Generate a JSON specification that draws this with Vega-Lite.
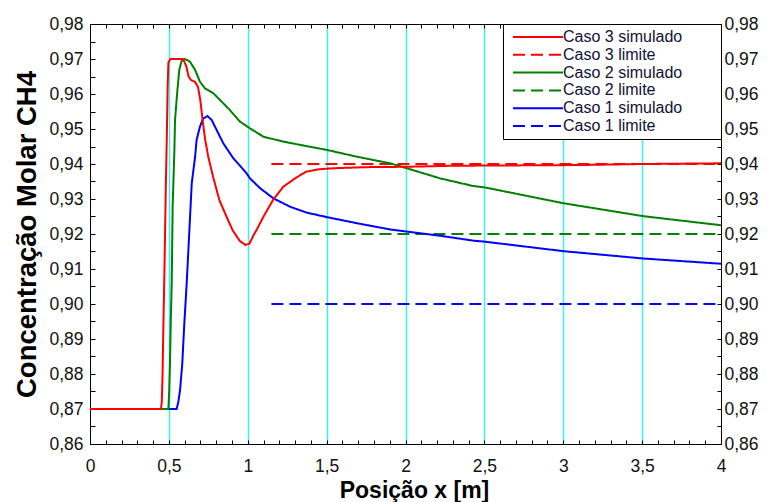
{
  "$schema": "https://vega.github.io/schema/vega-lite/v6.json",
  "width": 631,
  "height": 420,
  "autosize": {"type": "none"},
  "padding": {"left": 90, "top": 24, "right": 47, "bottom": 58},
  "background": "white",
  "config": {
    "view": {"stroke": "black", "strokeWidth": 1},
    "font": "Liberation Sans",
    "axis": {
      "domainColor": "black",
      "domainWidth": 1,
      "tickColor": "black",
      "tickWidth": 1,
      "labelColor": "#111111",
      "titleColor": "black",
      "labelFont": "Liberation Sans",
      "labelFontSize": 17.5,
      "titleFont": "Liberation Sans",
      "titleFontWeight": "bold",
      "titleFontSize": 24,
      "labelOverlap": false,
      "labelBound": false,
      "labelFlush": false
    },
    "legend": {
      "orient": "top-right",
      "offset": 0,
      "padding": 5,
      "strokeColor": "black",
      "fillColor": "white",
      "symbolType": "M-25,0H25",
      "symbolSize": 4,
      "symbolStrokeWidth": 2,
      "symbolOffset": 22,
      "labelFont": "Liberation Sans",
      "labelFontSize": 16,
      "labelColor": "#111133",
      "labelOffset": 17,
      "rowPadding": 1.8,
      "titleOrient": "right",
      "titlePadding": 34,
      "titleFontSize": 6,
      "titleColor": "white"
    }
  },
  "datasets": {
    "sim": [
      {"serie": "Caso 1 simulado", "x": 0, "y": 0.87},
      {"serie": "Caso 1 simulado", "x": 0.549, "y": 0.87},
      {"serie": "Caso 1 simulado", "x": 0.56, "y": 0.872},
      {"serie": "Caso 1 simulado", "x": 0.571, "y": 0.8754},
      {"serie": "Caso 1 simulado", "x": 0.585, "y": 0.883},
      {"serie": "Caso 1 simulado", "x": 0.598, "y": 0.8945},
      {"serie": "Caso 1 simulado", "x": 0.613, "y": 0.9059},
      {"serie": "Caso 1 simulado", "x": 0.629, "y": 0.9202},
      {"serie": "Caso 1 simulado", "x": 0.645, "y": 0.9345},
      {"serie": "Caso 1 simulado", "x": 0.666, "y": 0.942},
      {"serie": "Caso 1 simulado", "x": 0.676, "y": 0.9469},
      {"serie": "Caso 1 simulado", "x": 0.697, "y": 0.9507},
      {"serie": "Caso 1 simulado", "x": 0.718, "y": 0.953},
      {"serie": "Caso 1 simulado", "x": 0.744, "y": 0.9537},
      {"serie": "Caso 1 simulado", "x": 0.771, "y": 0.9526},
      {"serie": "Caso 1 simulado", "x": 0.803, "y": 0.9497},
      {"serie": "Caso 1 simulado", "x": 0.845, "y": 0.9459},
      {"serie": "Caso 1 simulado", "x": 0.909, "y": 0.9416},
      {"serie": "Caso 1 simulado", "x": 0.951, "y": 0.9395},
      {"serie": "Caso 1 simulado", "x": 0.993, "y": 0.9373},
      {"serie": "Caso 1 simulado", "x": 1.014, "y": 0.9359},
      {"serie": "Caso 1 simulado", "x": 1.078, "y": 0.9331},
      {"serie": "Caso 1 simulado", "x": 1.162, "y": 0.9302},
      {"serie": "Caso 1 simulado", "x": 1.268, "y": 0.9278},
      {"serie": "Caso 1 simulado", "x": 1.374, "y": 0.9261},
      {"serie": "Caso 1 simulado", "x": 1.504, "y": 0.9248},
      {"serie": "Caso 1 simulado", "x": 1.69, "y": 0.9231},
      {"serie": "Caso 1 simulado", "x": 1.902, "y": 0.9213},
      {"serie": "Caso 1 simulado", "x": 2.007, "y": 0.9207},
      {"serie": "Caso 1 simulado", "x": 2.219, "y": 0.9195},
      {"serie": "Caso 1 simulado", "x": 2.43, "y": 0.9181},
      {"serie": "Caso 1 simulado", "x": 2.504, "y": 0.9178},
      {"serie": "Caso 1 simulado", "x": 3.0, "y": 0.9151},
      {"serie": "Caso 1 simulado", "x": 3.507, "y": 0.913},
      {"serie": "Caso 1 simulado", "x": 4.0, "y": 0.9115},

      {"serie": "Caso 2 simulado", "x": 0, "y": 0.87},
      {"serie": "Caso 2 simulado", "x": 0.497, "y": 0.87},
      {"serie": "Caso 2 simulado", "x": 0.502, "y": 0.875},
      {"serie": "Caso 2 simulado", "x": 0.507, "y": 0.883},
      {"serie": "Caso 2 simulado", "x": 0.512, "y": 0.895},
      {"serie": "Caso 2 simulado", "x": 0.518, "y": 0.906},
      {"serie": "Caso 2 simulado", "x": 0.524, "y": 0.928},
      {"serie": "Caso 2 simulado", "x": 0.535, "y": 0.944},
      {"serie": "Caso 2 simulado", "x": 0.539, "y": 0.9526},
      {"serie": "Caso 2 simulado", "x": 0.554, "y": 0.9611},
      {"serie": "Caso 2 simulado", "x": 0.566, "y": 0.9669},
      {"serie": "Caso 2 simulado", "x": 0.581, "y": 0.9695},
      {"serie": "Caso 2 simulado", "x": 0.602, "y": 0.970},
      {"serie": "Caso 2 simulado", "x": 0.634, "y": 0.9692},
      {"serie": "Caso 2 simulado", "x": 0.666, "y": 0.9669},
      {"serie": "Caso 2 simulado", "x": 0.697, "y": 0.9635},
      {"serie": "Caso 2 simulado", "x": 0.729, "y": 0.9616},
      {"serie": "Caso 2 simulado", "x": 0.782, "y": 0.9602},
      {"serie": "Caso 2 simulado", "x": 0.824, "y": 0.9583},
      {"serie": "Caso 2 simulado", "x": 0.887, "y": 0.9554},
      {"serie": "Caso 2 simulado", "x": 0.951, "y": 0.9521},
      {"serie": "Caso 2 simulado", "x": 1.014, "y": 0.9502},
      {"serie": "Caso 2 simulado", "x": 1.099, "y": 0.9478},
      {"serie": "Caso 2 simulado", "x": 1.225, "y": 0.9464},
      {"serie": "Caso 2 simulado", "x": 1.374, "y": 0.9451},
      {"serie": "Caso 2 simulado", "x": 1.504, "y": 0.944},
      {"serie": "Caso 2 simulado", "x": 1.69, "y": 0.9421},
      {"serie": "Caso 2 simulado", "x": 1.902, "y": 0.9402},
      {"serie": "Caso 2 simulado", "x": 2.007, "y": 0.9388},
      {"serie": "Caso 2 simulado", "x": 2.219, "y": 0.9359},
      {"serie": "Caso 2 simulado", "x": 2.43, "y": 0.9337},
      {"serie": "Caso 2 simulado", "x": 2.504, "y": 0.9333},
      {"serie": "Caso 2 simulado", "x": 3.0, "y": 0.9288},
      {"serie": "Caso 2 simulado", "x": 3.507, "y": 0.9251},
      {"serie": "Caso 2 simulado", "x": 4.0, "y": 0.9225},

      {"serie": "Caso 3 simulado", "x": 0, "y": 0.87},
      {"serie": "Caso 3 simulado", "x": 0.45, "y": 0.87},
      {"serie": "Caso 3 simulado", "x": 0.455, "y": 0.872},
      {"serie": "Caso 3 simulado", "x": 0.46, "y": 0.88},
      {"serie": "Caso 3 simulado", "x": 0.465, "y": 0.893},
      {"serie": "Caso 3 simulado", "x": 0.47, "y": 0.905},
      {"serie": "Caso 3 simulado", "x": 0.475, "y": 0.918},
      {"serie": "Caso 3 simulado", "x": 0.48, "y": 0.932},
      {"serie": "Caso 3 simulado", "x": 0.487, "y": 0.948},
      {"serie": "Caso 3 simulado", "x": 0.492, "y": 0.962},
      {"serie": "Caso 3 simulado", "x": 0.497, "y": 0.969},
      {"serie": "Caso 3 simulado", "x": 0.51, "y": 0.970},
      {"serie": "Caso 3 simulado", "x": 0.55, "y": 0.970},
      {"serie": "Caso 3 simulado", "x": 0.59, "y": 0.970},
      {"serie": "Caso 3 simulado", "x": 0.61, "y": 0.968},
      {"serie": "Caso 3 simulado", "x": 0.625, "y": 0.965},
      {"serie": "Caso 3 simulado", "x": 0.64, "y": 0.964},
      {"serie": "Caso 3 simulado", "x": 0.665, "y": 0.9635},
      {"serie": "Caso 3 simulado", "x": 0.685, "y": 0.962},
      {"serie": "Caso 3 simulado", "x": 0.7, "y": 0.958},
      {"serie": "Caso 3 simulado", "x": 0.715, "y": 0.952},
      {"serie": "Caso 3 simulado", "x": 0.73, "y": 0.947},
      {"serie": "Caso 3 simulado", "x": 0.75, "y": 0.942},
      {"serie": "Caso 3 simulado", "x": 0.78, "y": 0.9364},
      {"serie": "Caso 3 simulado", "x": 0.82, "y": 0.9297},
      {"serie": "Caso 3 simulado", "x": 0.865, "y": 0.925},
      {"serie": "Caso 3 simulado", "x": 0.905, "y": 0.921},
      {"serie": "Caso 3 simulado", "x": 0.95, "y": 0.918},
      {"serie": "Caso 3 simulado", "x": 0.985, "y": 0.9169},
      {"serie": "Caso 3 simulado", "x": 1.01, "y": 0.9172},
      {"serie": "Caso 3 simulado", "x": 1.035, "y": 0.9195},
      {"serie": "Caso 3 simulado", "x": 1.06, "y": 0.9215},
      {"serie": "Caso 3 simulado", "x": 1.1, "y": 0.925},
      {"serie": "Caso 3 simulado", "x": 1.16, "y": 0.9297},
      {"serie": "Caso 3 simulado", "x": 1.225, "y": 0.9335},
      {"serie": "Caso 3 simulado", "x": 1.3, "y": 0.9359},
      {"serie": "Caso 3 simulado", "x": 1.37, "y": 0.9378},
      {"serie": "Caso 3 simulado", "x": 1.45, "y": 0.9385},
      {"serie": "Caso 3 simulado", "x": 1.55, "y": 0.9388},
      {"serie": "Caso 3 simulado", "x": 1.75, "y": 0.9391},
      {"serie": "Caso 3 simulado", "x": 2.0, "y": 0.9392},
      {"serie": "Caso 3 simulado", "x": 2.3, "y": 0.9395},
      {"serie": "Caso 3 simulado", "x": 2.7, "y": 0.9396},
      {"serie": "Caso 3 simulado", "x": 3.1, "y": 0.9397},
      {"serie": "Caso 3 simulado", "x": 3.5, "y": 0.94},
      {"serie": "Caso 3 simulado", "x": 4.0, "y": 0.9402}
    ],
    "lim": [
      {"serie": "Caso 1 limite", "x": 1.15, "y": 0.90},
      {"serie": "Caso 1 limite", "x": 4.0, "y": 0.90},
      {"serie": "Caso 2 limite", "x": 1.15, "y": 0.92},
      {"serie": "Caso 2 limite", "x": 4.0, "y": 0.92},
      {"serie": "Caso 3 limite", "x": 1.15, "y": 0.94},
      {"serie": "Caso 3 limite", "x": 4.0, "y": 0.94}
    ]
  },
  "layer": [
    {
      "data": {"name": "lim"},
      "mark": {"type": "line", "strokeWidth": 2},
      "encoding": {
        "x": {
          "field": "x", "type": "quantitative",
          "scale": {"domain": [0, 4], "nice": false, "zero": false},
          "axis": {
            "orient": "top",
            "values": [0,0.1,0.2,0.3,0.4,0.5,0.6,0.7,0.8,0.9,1,1.1,1.2,1.3,1.4,1.5,1.6,1.7,1.8,1.9,2,2.1,2.2,2.3,2.4,2.5,2.6,2.7,2.8,2.9,3,3.1,3.2,3.3,3.4,3.5,3.6,3.7,3.8,3.9,4],
            "tickSize": -4,
            "labels": false,
            "grid": false,
            "title": null
          }
        },
        "y": {
          "field": "y", "type": "quantitative",
          "scale": {"domain": [0.86, 0.98], "nice": false, "zero": false},
          "axis": {
            "orient": "right",
            "values": [0.86,0.865,0.87,0.875,0.88,0.885,0.89,0.895,0.9,0.905,0.91,0.915,0.92,0.925,0.93,0.935,0.94,0.945,0.95,0.955,0.96,0.965,0.97,0.975,0.98],
            "tickSize": -4,
            "labelPadding": 7,
            "labelBaseline": "middle",
            "labelExpr": "abs(datum.value*100 - round(datum.value*100)) < 0.001 ? replace(format(datum.value, '.2f'), '.', ',') : ''",
            "grid": false,
            "title": null
          }
        },
        "color": {
          "field": "serie", "type": "nominal",
          "scale": {
            "domain": ["Caso 3 simulado", "Caso 3 limite", "Caso 2 simulado", "Caso 2 limite", "Caso 1 simulado", "Caso 1 limite"],
            "range": ["#ff0000", "#ff0000", "#008000", "#008000", "#0000ff", "#0000ff"]
          },
          "legend": {"title": "\u00a0"}
        },
        "strokeDash": {
          "field": "serie", "type": "nominal",
          "scale": {
            "domain": ["Caso 3 simulado", "Caso 3 limite", "Caso 2 simulado", "Caso 2 limite", "Caso 1 simulado", "Caso 1 limite"],
            "range": [[1, 0], [12, 6], [1, 0], [12, 6], [1, 0], [12, 6]]
          },
          "legend": {"title": "\u00a0"}
        }
      }
    },
    {
      "data": {"name": "sim"},
      "mark": {"type": "line", "strokeWidth": 2},
      "encoding": {
        "x": {
          "field": "x", "type": "quantitative",
          "scale": {"domain": [0, 4], "nice": false, "zero": false},
          "axis": {
            "orient": "bottom",
            "values": [0,0.1,0.2,0.3,0.4,0.5,0.6,0.7,0.8,0.9,1,1.1,1.2,1.3,1.4,1.5,1.6,1.7,1.8,1.9,2,2.1,2.2,2.3,2.4,2.5,2.6,2.7,2.8,2.9,3,3.1,3.2,3.3,3.4,3.5,3.6,3.7,3.8,3.9,4],
            "tickSize": -4,
            "labelPadding": 17,
            "labelExpr": "abs(datum.value*2 - round(datum.value*2)) < 0.001 ? replace(format(datum.value, '~g'), '.', ',') : ''",
            "grid": true,
            "gridColor": "#3ff0f0",
            "gridWidth": 1.5,
            "gridOpacity": {"condition": {"test": "datum.value > 0.01 && datum.value < 3.99 && abs(datum.value*2 - round(datum.value*2)) < 0.001", "value": 1}, "value": 0},
            "title": "Posição x [m]",
            "titleFontSize": 23,
            "titleX": 324,
            "titleY": 53,
            "titleBaseline": "alphabetic"
          }
        },
        "y": {
          "field": "y", "type": "quantitative",
          "scale": {"domain": [0.86, 0.98], "nice": false, "zero": false},
          "axis": {
            "orient": "left",
            "values": [0.86,0.865,0.87,0.875,0.88,0.885,0.89,0.895,0.9,0.905,0.91,0.915,0.92,0.925,0.93,0.935,0.94,0.945,0.95,0.955,0.96,0.965,0.97,0.975,0.98],
            "tickSize": -5,
            "labelPadding": 12,
            "labelBaseline": "middle",
            "labelExpr": "abs(datum.value*100 - round(datum.value*100)) < 0.001 ? replace(format(datum.value, '.2f'), '.', ',') : ''",
            "grid": false,
            "title": "Concentração Molar CH4",
            "titleFontSize": 27.5,
            "titleX": -55,
            "titleBaseline": "alphabetic"
          }
        },
        "color": {
          "field": "serie", "type": "nominal",
          "scale": {
            "domain": ["Caso 3 simulado", "Caso 3 limite", "Caso 2 simulado", "Caso 2 limite", "Caso 1 simulado", "Caso 1 limite"],
            "range": ["#ff0000", "#ff0000", "#008000", "#008000", "#0000ff", "#0000ff"]
          },
          "legend": {"title": "\u00a0"}
        },
        "strokeDash": {
          "field": "serie", "type": "nominal",
          "scale": {
            "domain": ["Caso 3 simulado", "Caso 3 limite", "Caso 2 simulado", "Caso 2 limite", "Caso 1 simulado", "Caso 1 limite"],
            "range": [[1, 0], [12, 6], [1, 0], [12, 6], [1, 0], [12, 6]]
          },
          "legend": {"title": "\u00a0"}
        }
      }
    }
  ],
  "resolve": {"axis": {"x": "independent", "y": "independent"}}
}
